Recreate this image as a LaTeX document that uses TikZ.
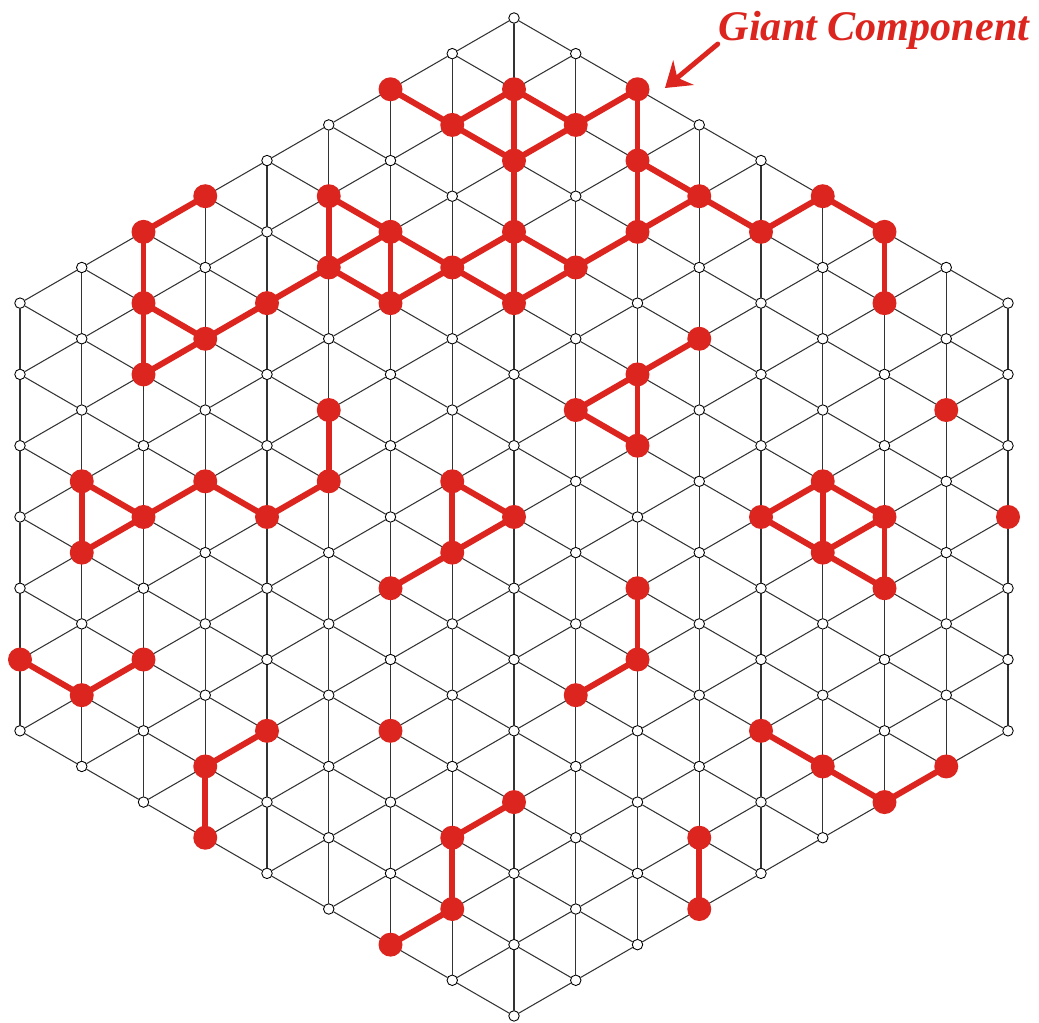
\documentclass[tikz,border=0pt]{standalone}
\usepackage{fontspec}
\setmainfont{Liberation Serif}
\usetikzlibrary{arrows.meta}
\definecolor{clusterred}{HTML}{DB251E}
\definecolor{latticeink}{HTML}{333333}
\tikzset{site/.style={circle,draw=black,fill=white,line width=.5pt,minimum size=2.1mm,inner sep=0pt},occupied/.style={circle,fill=clusterred,minimum size=4.8mm,inner sep=0pt},bond/.style={latticeink,line width=.6pt},cluster/.style={clusterred,line width=3.4pt},pointer/.style={-{Stealth[length=4.8mm,width=6.4mm,inset=1.6mm]},clusterred,line width=2.8pt},every picture/.style={line cap=round}}

\begin{document}
\begin{tikzpicture}[x=1.235cm,y=-0.7128cm]
\useasboundingbox (-0.3239,-0.5051) rectangle (16.502,28.171);
% lattice sites, column \i, half-row \j
\foreach \i in {0,...,16}{
  \pgfmathtruncatemacro\jtop{abs(8-\i)}
  \pgfmathtruncatemacro\jnext{\jtop+2}
  \pgfmathtruncatemacro\jbot{28-abs(8-\i)}
  \foreach \j in {\jtop,\jnext,...,\jbot}{\node[site] (n-\i-\j) at (\i,\j) {};}
}
% lattice bonds
\foreach \i in {0,...,16}{
  \pgfmathtruncatemacro\jtop{abs(8-\i)}
  \pgfmathtruncatemacro\jnext{\jtop+2}
  \pgfmathtruncatemacro\jbot{28-abs(8-\i)}
  \foreach \j in {\jtop,\jnext,...,\jbot}{
    \ifnum\j<\jbot\pgfmathtruncatemacro\k{\j+2}\draw[bond] (n-\i-\j)--(n-\i-\k);\fi
    \ifnum\i<16
      \pgfmathtruncatemacro\ii{\i+1}
      \pgfmathtruncatemacro\up{\j-1}
      \pgfmathtruncatemacro\dn{\j+1}
      \pgfmathtruncatemacro\upok{(\up>=abs(8-\ii))*(\up<=28-abs(8-\ii))}
      \pgfmathtruncatemacro\dnok{(\dn>=abs(8-\ii))*(\dn<=28-abs(8-\ii))}
      \ifnum\upok=1\draw[bond] (n-\i-\j)--(n-\ii-\up);\fi
      \ifnum\dnok=1\draw[bond] (n-\i-\j)--(n-\ii-\dn);\fi
    \fi
  }
}
% occupied bonds
\foreach \a/\b in {6-2/7-3,7-3/8-2,7-3/8-4,8-2/8-4,8-2/9-3,9-3/8-4,9-3/10-2,10-2/10-4,10-4/10-6,10-4/11-5,11-5/10-6,11-5/12-6,12-6/13-5,13-5/14-6,14-6/14-8,8-4/8-6,8-6/8-8,8-6/7-7,8-6/9-7,9-7/10-6,9-7/8-8,7-7/8-8,7-7/6-6,7-7/6-8,6-6/6-8,6-6/5-5,6-6/5-7,5-5/5-7,5-7/6-8,5-7/4-8,4-8/3-9,3-9/2-8,3-9/2-10,2-8/2-10,2-8/2-6,2-6/3-5,
  11-9/10-10,10-10/9-11,10-10/10-12,9-11/10-12,
  5-11/5-13,5-13/4-14,4-14/3-13,3-13/2-14,2-14/1-13,1-13/1-15,1-15/2-14,
  7-13/8-14,7-13/7-15,8-14/7-15,7-15/6-16,
  12-14/13-13,12-14/13-15,13-13/13-15,13-13/14-14,13-15/14-14,14-14/14-16,13-15/14-16,
  10-16/10-18,10-18/9-19,0-18/1-19,1-19/2-18,4-20/3-21,3-21/3-23,
  12-20/13-21,13-21/14-22,14-22/15-21,8-22/7-23,7-23/7-25,7-25/6-26,11-23/11-25}
  \draw[cluster] (n-\a)--(n-\b);
% occupied sites
\foreach \v in {6-2,7-3,8-2,8-4,9-3,10-2,10-4,10-6,11-5,12-6,13-5,14-6,14-8,9-7,8-6,8-8,7-7,6-6,6-8,5-5,5-7,4-8,3-9,2-8,2-6,3-5,2-10,
  11-9,10-10,9-11,10-12,15-11,16-14,5-11,5-13,4-14,3-13,2-14,1-13,1-15,7-13,8-14,7-15,6-16,
  12-14,13-13,14-14,13-15,14-16,10-16,10-18,9-19,0-18,1-19,2-18,4-20,3-21,3-23,6-20,
  12-20,13-21,14-22,15-21,8-22,7-23,7-25,6-26,11-23,11-25}
  \node[occupied] (r-\v) at (n-\v) {};
\node[font=\fontsize{24}{28}\selectfont\bfseries\itshape,text=clusterred,anchor=base] (gc-label) at (13.83,0.62) {Giant Component};
\coordinate (gc-tail) at (11.30,0.73);
\coordinate (gc-tip) at (10.445,1.964);
\draw[pointer] (gc-tail)--(gc-tip);
\end{tikzpicture}
\end{document}
